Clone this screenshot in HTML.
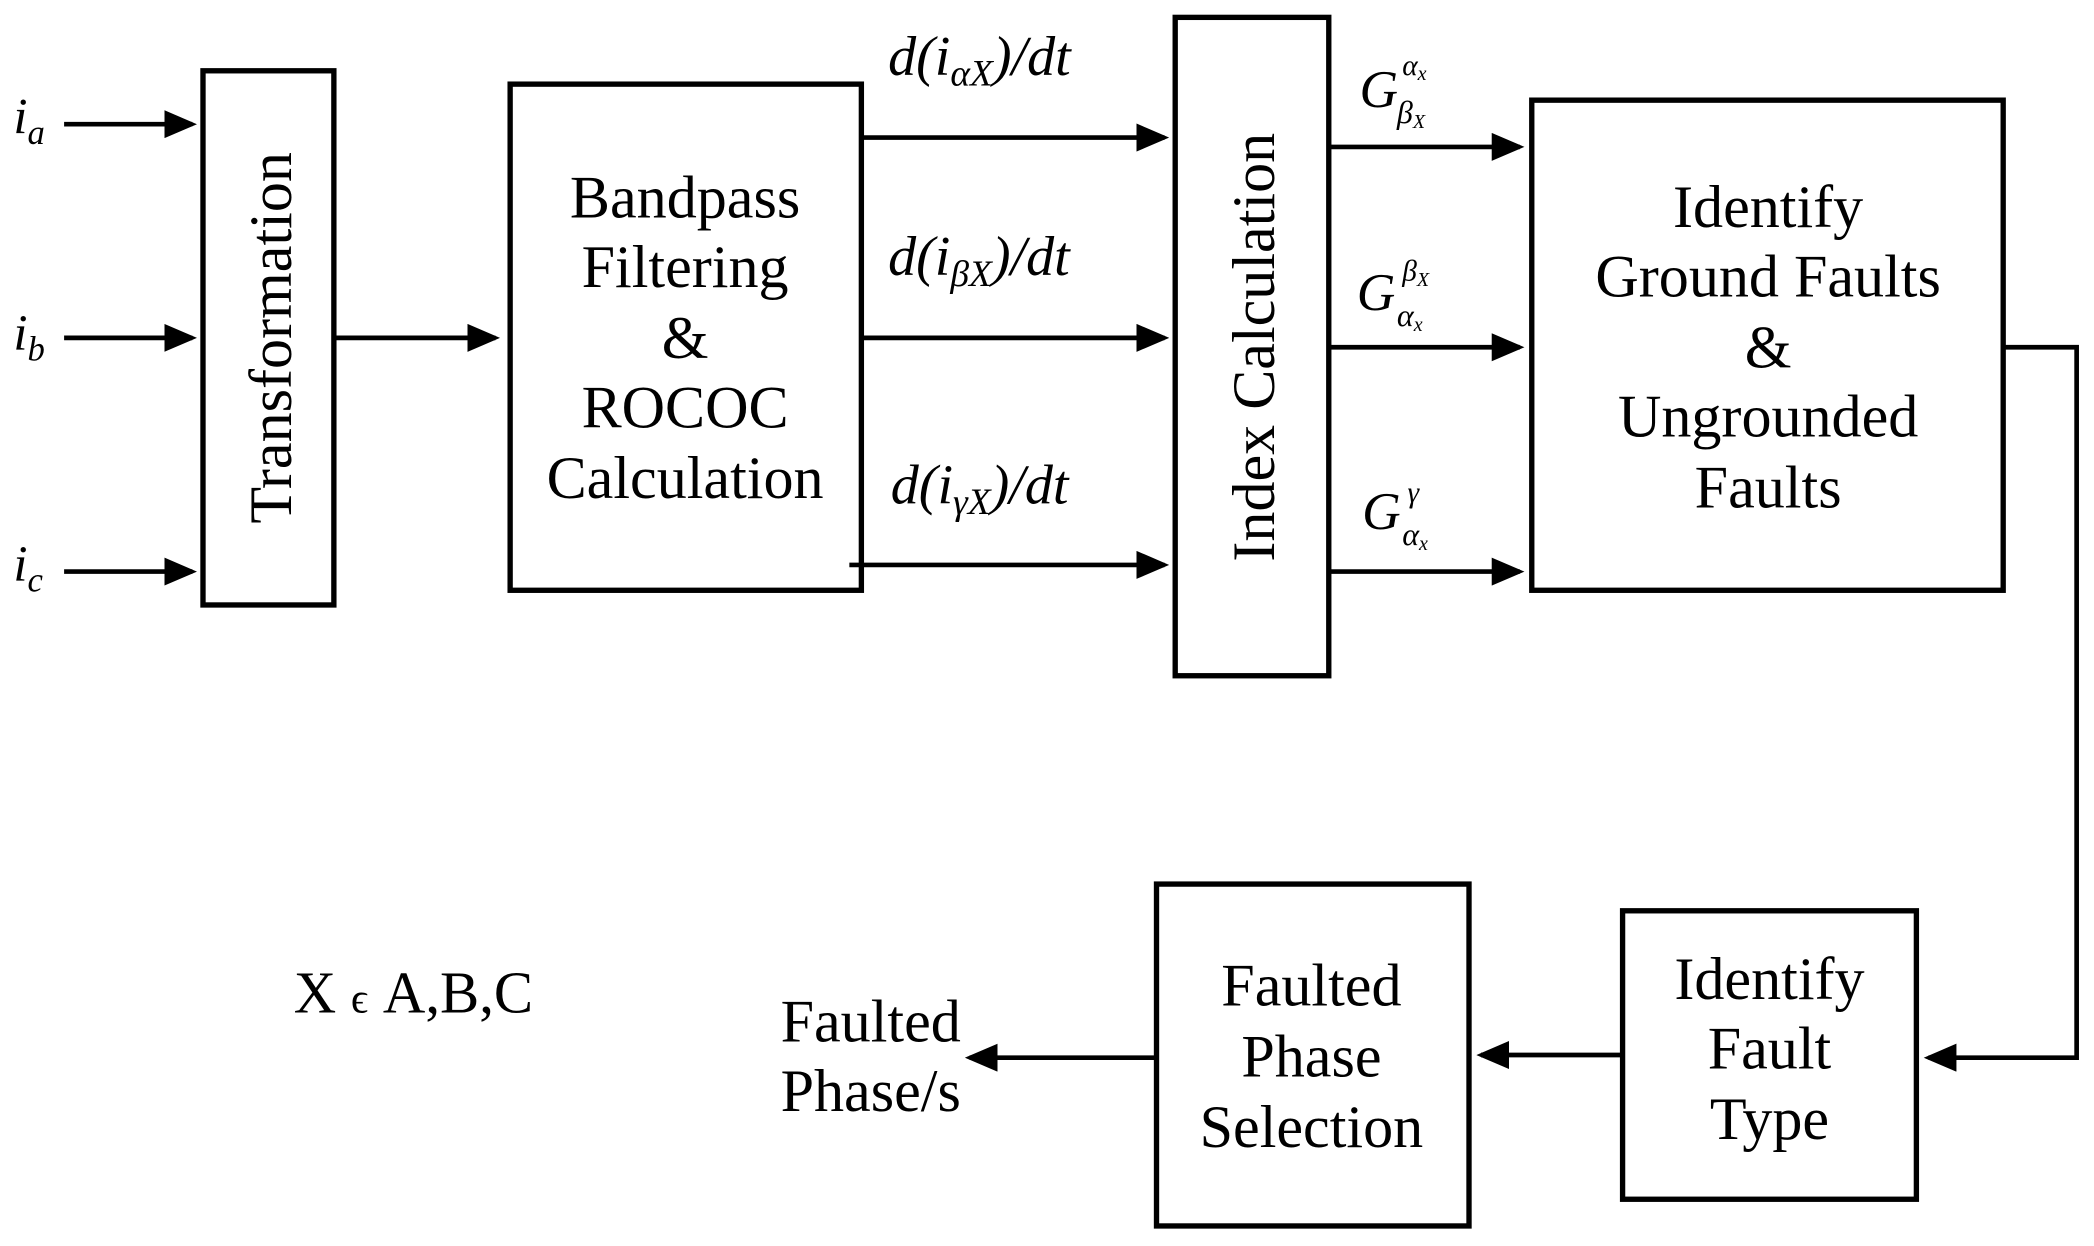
<!DOCTYPE html>
<html><head><meta charset="utf-8"><style>
html,body{margin:0;padding:0;background:#fff;}
svg{display:block;}
text{font-family:"Liberation Serif",serif;fill:#000;}
</style></head><body>
<svg width="2094" height="1246" viewBox="0 0 1568 933" xmlns="http://www.w3.org/2000/svg">
<defs><marker id="a" markerWidth="7" markerHeight="6" refX="6" refY="3" orient="auto" markerUnits="strokeWidth"><path d="M0,0 L7,3 L0,6 Z" fill="#000"/></marker></defs>
<g fill="none" stroke="#000" stroke-width="4">
<rect x="152" y="53" width="98" height="400"/>
<rect x="382" y="63" width="263" height="379"/>
<rect x="880" y="13" width="115" height="493"/>
<rect x="1147" y="75" width="353" height="367"/>
<rect x="1215" y="682" width="220" height="216"/>
<rect x="866" y="662" width="234" height="256"/>
<g marker-end="url(#a)" stroke-width="3.5">
<line x1="48" y1="93" x2="144" y2="93"/>
<line x1="48" y1="253" x2="144" y2="253"/>
<line x1="48" y1="428" x2="144" y2="428"/>
<line x1="250" y1="253" x2="371" y2="253"/>
<line x1="645" y1="103" x2="872" y2="103"/>
<line x1="645" y1="253" x2="872" y2="253"/>
<line x1="636" y1="423" x2="872" y2="423"/>
<line x1="995" y1="110" x2="1138" y2="110"/>
<line x1="995" y1="260" x2="1138" y2="260"/>
<line x1="995" y1="428" x2="1138" y2="428"/>
<polyline points="1500,260 1555,260 1555,792 1444,792"/>
<line x1="1215" y1="790" x2="1109" y2="790"/>
<line x1="866" y1="792" x2="726" y2="792"/>
</g></g>
<g font-size="38" font-style="italic">
<text x="10" y="100">i<tspan font-size="26" dy="8">a</tspan></text>
<text x="10" y="262">i<tspan font-size="26" dy="8">b</tspan></text>
<text x="10" y="435">i<tspan font-size="26" dy="8">c</tspan></text>
</g>
<g font-size="42" font-style="italic">
<text x="665" y="56">d(i<tspan font-size="28" dy="8">αX</tspan><tspan dy="-8">)/dt</tspan></text>
<text x="665" y="206">d(i<tspan font-size="28" dy="8">βX</tspan><tspan dy="-8">)/dt</tspan></text>
<text x="667" y="377">d(i<tspan font-size="28" dy="8">γX</tspan><tspan dy="-8">)/dt</tspan></text>
</g>
<g font-size="40" font-style="italic">
<text x="1018" y="80">G</text><text x="1050" y="56" font-size="22">α<tspan font-size="15" dy="4">x</tspan></text><text x="1046" y="92" font-size="24">β<tspan font-size="15" dy="4">X</tspan></text>
<text x="1016" y="232">G</text><text x="1050" y="210" font-size="22">β<tspan font-size="15" dy="4">X</tspan></text><text x="1046" y="244" font-size="24">α<tspan font-size="15" dy="4">x</tspan></text>
<text x="1020" y="396">G</text><text x="1054" y="376" font-size="22">γ</text><text x="1050" y="408" font-size="24">α<tspan font-size="15" dy="4">x</tspan></text>
</g>
<g font-size="45" text-anchor="middle">
<text transform="translate(218,253) rotate(-90)">Transformation</text>
<text transform="translate(954,260) rotate(-90)">Index Calculation</text>
<text x="513" y="163">Bandpass</text>
<text x="513" y="215">Filtering</text>
<text x="513" y="268">&amp;</text>
<text x="513" y="320">ROCOC</text>
<text x="513" y="373">Calculation</text>
<text x="1324" y="170">Identify</text>
<text x="1324" y="222">Ground Faults</text>
<text x="1324" y="275">&amp;</text>
<text x="1324" y="327">Ungrounded</text>
<text x="1324" y="380">Faults</text>
<text x="1325" y="748">Identify</text>
<text x="1325" y="800">Fault</text>
<text x="1325" y="853">Type</text>
<text x="982" y="753">Faulted</text>
<text x="982" y="806">Phase</text>
<text x="982" y="859">Selection</text>
<text x="652" y="780">Faulted</text>
<text x="652" y="832">Phase/s</text>
</g>
<text x="220" y="758" font-size="44">X <tspan font-size="32">ϵ</tspan> A,B,C</text>
</svg>
</body></html>
